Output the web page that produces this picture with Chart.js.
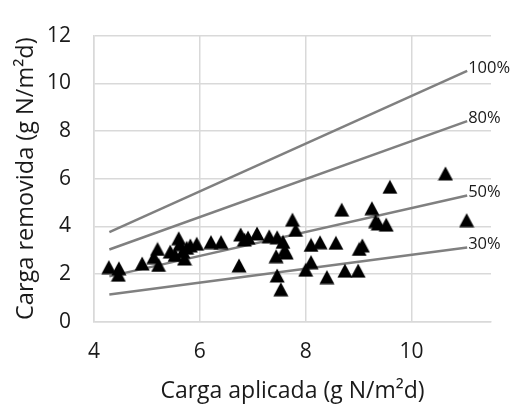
<!DOCTYPE html>
<html>
<head>
<meta charset="utf-8">
<script src="https://cdn.jsdelivr.net/npm/chart.js@4.4.1/dist/chart.umd.min.js"></script>
<style>
  html, body { margin: 0; padding: 0; background: #fff; }
  #wrap { width: 513px; height: 408px; position: relative; }
</style>
</head>
<body>
<div id="wrap"><canvas id="chart-carga"></canvas></div>
<script>
// Carga aplicada vs carga removida (triángulos)
const cargaAplicada = [
  4.28, 4.47, 4.46, 4.91, 5.13, 5.20, 5.22, 5.44, 5.53, 5.60,
  5.62, 5.68, 5.71, 5.75, 5.82, 5.94, 6.21, 6.40, 6.74, 6.77,
  6.84, 6.91, 7.08, 7.31, 7.46, 7.57, 7.60, 7.44, 7.63, 7.46,
  7.53, 7.75, 7.81, 8.00, 8.10, 8.10, 8.27, 8.40, 8.57, 8.68,
  8.74, 8.99, 9.01, 9.07, 9.25, 9.32, 9.37, 9.52, 9.59, 10.64,
  11.04
];
const cargaRemovida = [
  2.29, 2.24, 1.97, 2.44, 2.71, 3.05, 2.38, 2.94, 2.80, 3.50,
  3.25, 2.95, 2.65, 3.10, 3.20, 3.27, 3.34, 3.34, 2.36, 3.66,
  3.45, 3.53, 3.70, 3.58, 3.54, 3.35, 3.00, 2.75, 2.90, 1.94,
  1.36, 4.28, 3.85, 2.18, 3.22, 2.50, 3.33, 1.87, 3.31, 4.70,
  2.14, 2.14, 3.05, 3.20, 4.76, 4.22, 4.12, 4.07, 5.66, 6.22,
  4.26
];

// Líneas de referencia de eficiencia
const refNombres = ['100%', '80%', '50%', '30%'];
const refX = [4.29, 11.05];
const refYInicio = [3.76, 3.03, 1.90, 1.14];
const refYFin = [10.52, 8.41, 5.29, 3.11];

const xTicks = [4, 6, 8, 10];
const yTicks = [0, 2, 4, 6, 8, 10, 12];

const FONT = '"Open Sans", "Noto Sans", sans-serif';
const GRID = '#d9d9d9';

/** Black triangle marker, centred on its bounding box like Excel */
function makeTriangle() {
  const c = document.createElement('canvas');
  c.width = 16; c.height = 15;
  const g = c.getContext('2d');
  g.fillStyle = '#000';
  g.beginPath();
  g.moveTo(0.5, 14.5);
  g.lineTo(8, 0.5);
  g.lineTo(15.5, 14.5);
  g.closePath();
  g.fill();
  return c;
}

/** Draws the 100% / 80% ... labels at the end of each reference line */
const refLabelPlugin = {
  id: 'refLabels',
  afterDatasetsDraw(chart) {
    const ctx = chart.ctx;
    ctx.save();
    ctx.font = '16.5px ' + FONT;
    ctx.fillStyle = '#1a1a1a';
    ctx.textAlign = 'left';
    ctx.textBaseline = 'middle';
    chart.data.datasets.forEach((ds, i) => {
      if (!ds.refLabel) return;
      const pts = chart.getDatasetMeta(i).data;
      const last = pts[pts.length - 1];
      ctx.fillText(ds.refLabel, last.x + 1, last.y - 3);
    });
    ctx.restore();
  }
};

function buildDatasets() {
  const puntos = cargaAplicada.map((x, i) => ({ x, y: cargaRemovida[i] }));
  const sets = [{
    type: 'scatter',
    data: puntos,
    pointStyle: makeTriangle(),
    pointRadius: 8,
    order: 0
  }];
  refNombres.forEach((nombre, i) => {
    sets.push({
      type: 'line',
      refLabel: nombre,
      data: [{ x: refX[0], y: refYInicio[i] }, { x: refX[1], y: refYFin[i] }],
      borderColor: '#808080',
      borderWidth: 2.5,
      pointRadius: 0,
      fill: false,
      order: 1
    });
  });
  return sets;
}

const canvas = document.getElementById('chart-carga');
new Chart(canvas, {
  type: 'scatter',
  data: { datasets: buildDatasets() },
  options: {
    responsive: true,
    maintainAspectRatio: false,
    animation: false,
    layout: { padding: { top: 15.7, right: 22, left: 0, bottom: 0 } },
    plugins: { legend: { display: false }, tooltip: { enabled: false } },
    scales: {
      x: {
        type: 'linear',
        min: 4,
        max: 11.5,
        afterFit(scale) { scale.height = 86.3; },
        afterBuildTicks(scale) { scale.ticks = xTicks.map(v => ({ value: v })); },
        grid: { color: GRID, lineWidth: 1.5, drawTicks: false },
        border: { color: GRID, width: 1.5 },
        ticks: { color: '#1a1a1a', padding: 18, font: { family: FONT, size: 21 } },
        title: {
          display: true,
          text: 'Carga aplicada (g N/m²d)',
          color: '#1a1a1a',
          font: { family: FONT, size: 23 },
          padding: { top: 0, bottom: 3 }
        }
      },
      y: {
        type: 'linear',
        min: 0,
        max: 12,
        afterFit(scale) { scale.width = 94; },
        afterBuildTicks(scale) { scale.ticks = yTicks.map(v => ({ value: v })); },
        grid: { color: GRID, lineWidth: 1.5, drawTicks: false },
        border: { color: GRID, width: 1.5 },
        ticks: { color: '#1a1a1a', padding: 23, font: { family: FONT, size: 21 } },
        title: {
          display: true,
          text: 'Carga removida (g N/m²d)',
          color: '#1a1a1a',
          font: { family: FONT, size: 23.5 },
          padding: { top: 12, bottom: 0 }
        }
      }
    }
  },
  plugins: [refLabelPlugin]
});
</script>
</body>
</html>
